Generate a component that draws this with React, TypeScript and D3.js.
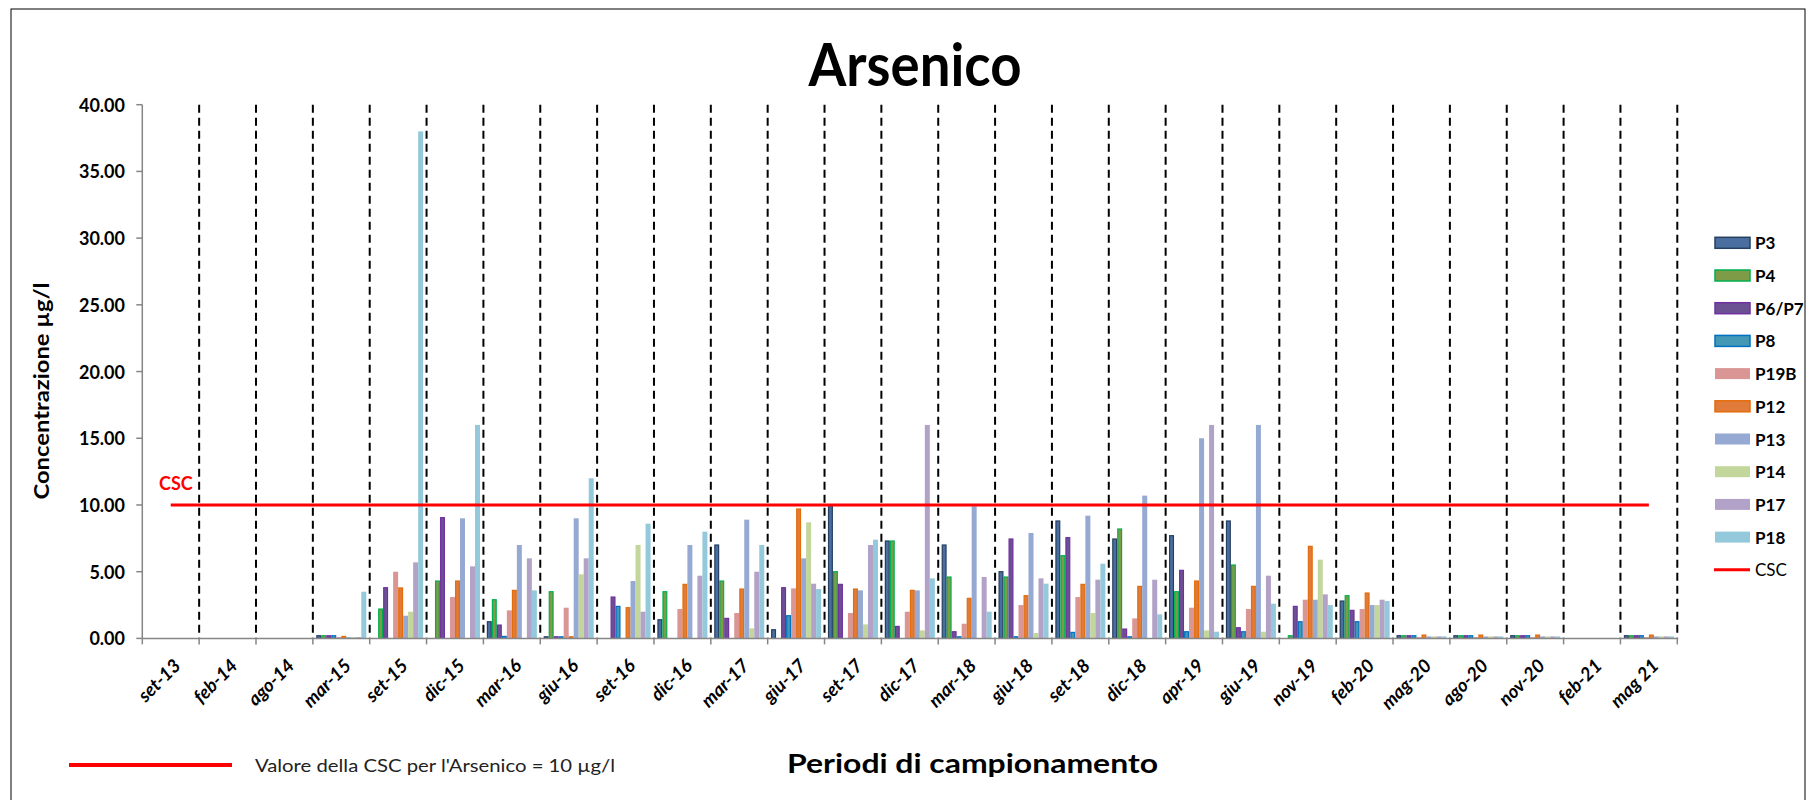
import React from "react";
import * as d3 from "d3";

const categories = ["set-13","feb-14","ago-14","mar-15","set-15","dic-15","mar-16","giu-16","set-16","dic-16","mar-17","giu-17","set-17","dic-17","mar-18","giu-18","set-18","dic-18","apr-19","giu-19","nov-19","feb-20","mag-20","ago-20","nov-20","feb-21","mag 21"];

const seriesNames = ["P3","P4","P6/P7","P8","P19B","P12","P13","P14","P17","P18"];

const n = null;
const P3 =   [n,n,n,0.2, n,   n,    1.25,0.12,n,   1.4, 7.0, 0.65,10.0,7.3, 7.0, 5.0, 8.8, 7.45,7.7, 8.8, n,   2.8, 0.2, 0.2, 0.2, n,0.2];
const P4 =   [n,n,n,0.2, 2.2, 4.3,  2.9, 3.5, n,   3.5, 4.3, n,   5.0, 7.3, 4.6, 4.6, 6.2, 8.2, 3.5, 5.5, 0.2, 3.2, 0.2, 0.2, 0.2, n,0.2];
const P6P7 = [n,n,n,0.2, 3.8, 9.05, 1.0, 0.12,3.1, n,   1.5, 3.8, 4.05,0.9, 0.5, 7.45,7.55,0.7, 5.1, 0.8, 2.4, 2.1, 0.2, 0.2, 0.2, n,0.2];
const P8 =   [n,n,n,0.2, n,   n,    0.15,0.12,2.4, n,   n,   1.7, n,   n,   0.12,0.12,0.45,0.12,0.5, 0.5, 1.25,1.25,0.2, 0.2, 0.2, n,0.2];
const P19B = [n,n,n,0.1, 5.0, 3.1,  2.1, 2.3, n,   2.2, 1.9, 3.75,1.9, 2.0, 1.1, 2.5, 3.1, 1.5, 2.3, 2.2, 2.9, 2.2, 0.1, 0.1, 0.1, n,0.1];
const P12 =  [n,n,n,0.15,3.78,4.3,  3.6, 0.12,2.3, 4.05,3.7, 9.7, 3.7, 3.6, 3.0, 3.2, 4.05,3.9, 4.3, 3.9, 6.9, 3.4, 0.25,0.25,0.25,n,0.25];
const P13 =  [n,n,n,0.1, 1.7, 9.0,  7.0, 9.0, 4.3, 7.0, 8.9, 6.0, 3.6, 3.6, 9.9, 7.9, 9.2, 10.7,15.0,16.0,2.9, 2.5, 0.15,0.15,0.15,n,0.15];
const P14 =  [n,n,n,0.1, 2.0, n,    n,   4.8, 7.0, n,   0.75,8.7, 1.05,0.6, n,   0.4, 1.9, n,   0.6, 0.5, 5.9, 2.5, 0.15,0.15,0.15,n,0.15];
const P17 =  [n,n,n,0.1, 5.7, 5.4,  6.0, 6.0, 2.0, 4.7, 5.0, 4.1, 7.0, 16.0,4.6, 4.5, 4.4, 4.4, 16.0,4.7, 3.3, 2.9, 0.15,0.15,0.15,n,0.15];
const P18 =  [n,n,n,3.5, 38.0,16.0, 3.6, 12.0,8.6, 8.0, 7.0, 3.7, 7.4, 4.5, 2.0, 4.1, 5.6, 1.8, 0.5, 2.6, 2.5, 2.8, 0.15,0.15,0.15,n,0.15];

const seriesValues = [P3, P4, P6P7, P8, P19B, P12, P13, P14, P17, P18];

const yTicks = [0, 5, 10, 15, 20, 25, 30, 35, 40];
const cscValue = 10;

const fills = ["#4a6e9f","#7e9b48","#6b5191","#4298b5","#d99694","#e07b39","#95a9d2","#c3d69b","#b2a2c7","#93c9da"];
const strokes = ["#254061","#00b050","#7030a0","#0070c0",null,"#e46c0a",null,null,null,null];

const FONT = "Lato, 'DejaVu Sans', sans-serif";

export default function App() {
  const W = 1816, H = 800;
  const x = d3.scaleBand().domain(categories).range([142.3, 1677.3]).padding(0);
  const y = d3.scaleLinear().domain([0, 40]).range([638.4, 104.7]);
  const xs = d3.scaleBand().domain(seriesNames).range([0, x.bandwidth()]).paddingInner(0).paddingOuter(0.68);
  const fmt = d3.format(".2f");
  const y0 = y(0);
  const xLeft = x.range()[0];
  const xRight = x.range()[1];
  const firstC = x(categories[0])! + x.bandwidth() / 2;
  const lastC = x(categories[categories.length - 1])! + x.bandwidth() / 2;

  return (
    <svg width={W} height={H} style={{ position: "absolute", left: 0, top: 0, background: "#fff" }} fontFamily={FONT}>
      <rect x={11} y={9} width={1794} height={800} fill="#fff" stroke="#000" strokeWidth={1} />
      <text x={915} y={86} textAnchor="middle" fontSize={60} fontWeight="bold" textLength={213} lengthAdjust="spacingAndGlyphs">Arsenico</text>

      {/* dashed separators */}
      {categories.map((c, i) => (
        <line key={"d" + i} x1={x(c)! + x.bandwidth()} x2={x(c)! + x.bandwidth()} y1={y(40)} y2={y0}
          stroke="#000" strokeWidth={2} strokeDasharray="8,5" />
      ))}

      {/* bars */}
      {seriesNames.map((s, si) => (
        <g key={s}>
          {categories.map((c, ci) => {
            const v = seriesValues[si][ci];
            if (v === null || v === undefined) return null;
            const bx = x(c)! + xs(s)!;
            const by = y(v);
            const st = strokes[si];
            return (
              <rect key={c} x={bx + (st ? 0.6 : 0)} y={by} width={xs.bandwidth() - (st ? 1.2 : 0)} height={Math.max(0, y0 - by)}
                fill={fills[si]} stroke={st || "none"} strokeWidth={st ? 1.2 : 0} />
            );
          })}
        </g>
      ))}

      {/* y axis */}
      <line x1={xLeft} x2={xLeft} y1={y(40)} y2={y0} stroke="#868686" strokeWidth={1.5} />
      {yTicks.map((t) => (
        <g key={t}>
          <line x1={xLeft - 6} x2={xLeft} y1={y(t)} y2={y(t)} stroke="#868686" strokeWidth={1.5} />
          <text x={125} y={y(t)} textAnchor="end" dominantBaseline="central" fontSize={18} fontWeight="bold">{fmt(t)}</text>
        </g>
      ))}
      {/* x axis */}
      <line x1={xLeft} x2={xRight} y1={y0} y2={y0} stroke="#868686" strokeWidth={1.5} />
      {categories.map((c, i) => (
        <line key={"t" + i} x1={x(c)! + x.bandwidth()} x2={x(c)! + x.bandwidth()} y1={y0} y2={y0 + 6} stroke="#868686" strokeWidth={1.5} />
      ))}
      <line x1={xLeft} x2={xLeft} y1={y0} y2={y0 + 6} stroke="#868686" strokeWidth={1.5} />
      {categories.map((c, i) => {
        const cx = x(c)! + x.bandwidth() / 2;
        return (
          <text key={"l" + i} transform={`translate(${cx + 11},${667}) rotate(-45)`} textAnchor="end" fontSize={18.5}
            fontWeight="bold" fontStyle="italic">{c}</text>
        );
      })}

      {/* CSC line */}
      <line x1={firstC} x2={lastC} y1={y(cscValue)} y2={y(cscValue)} stroke="#ff0000" strokeWidth={3} />
      <text x={159} y={490} fill="#ff0000" fontSize={18} fontWeight="bold">CSC</text>

      {/* axis titles */}
      <text transform={`translate(49,391) rotate(-90)`} textAnchor="middle" fontSize={20} fontWeight="bold" textLength={217} lengthAdjust="spacingAndGlyphs">Concentrazione µg/l</text>
      <text x={787} y={773} fontSize={26} fontWeight="bold" textLength={371} lengthAdjust="spacingAndGlyphs">Periodi di campionamento</text>

      {/* bottom note */}
      <line x1={69} x2={232} y1={765} y2={765} stroke="#ff0000" strokeWidth={4} />
      <text x={255} y={765} dominantBaseline="central" fontSize={18} textLength={360} lengthAdjust="spacingAndGlyphs" fill="#222">Valore della CSC per l'Arsenico = 10 µg/l</text>

      {/* legend */}
      {seriesNames.map((s, i) => {
        const cy = 242.8 + i * 32.7;
        const st = strokes[i];
        return (
          <g key={"lg" + s}>
            <rect x={1715} y={cy - 5.5} width={35} height={11} fill={fills[i]} stroke={st || "none"} strokeWidth={st ? 1.5 : 0} />
            <text x={1755} y={cy} dominantBaseline="central" fontSize={17} fontWeight="bold">{s}</text>
          </g>
        );
      })}
      <line x1={1714} x2={1750} y1={242.8 + 10 * 32.7} y2={242.8 + 10 * 32.7} stroke="#ff0000" strokeWidth={3} />
      <text x={1755} y={242.8 + 10 * 32.7} dominantBaseline="central" fontSize={17}>CSC</text>
    </svg>
  );
}
